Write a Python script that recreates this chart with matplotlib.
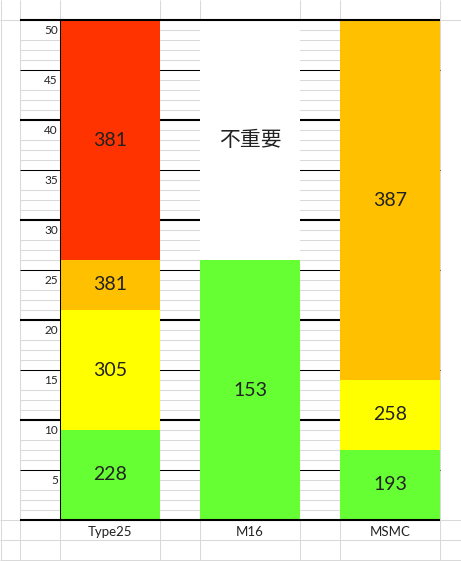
import matplotlib
matplotlib.use("Agg")
import matplotlib.pyplot as plt

plt.rcParams['font.family'] = ['Lato', 'Noto Sans CJK SC', 'DejaVu Sans']

# ---- data ----
categories = ["Type25", "M16", "MSMC"]
seg_type25 = [9, 12, 5, 24]
seg_m16 = [26, 24]
seg_msmc = [7, 7, 36]
labels_type25 = ["228", "305", "381", "381"]
labels_m16 = ["153", "不重要"]
labels_msmc = ["193", "258", "387"]
yticks = [5, 10, 15, 20, 25, 30, 35, 40, 45, 50]

colors_type25 = ["#66FF33", "#FFFF00", "#FFC000", "#FF3300"]
colors_m16 = ["#66FF33", "#FFFFFF"]
colors_msmc = ["#66FF33", "#FFFF00", "#FFC000"]

segments = [seg_type25, seg_m16, seg_msmc]
labels = [labels_type25, labels_m16, labels_msmc]
colors = [colors_type25, colors_m16, colors_msmc]

# ---- layout (pixel geometry of the sheet) ----
W, H = 461, 561
fig = plt.figure(figsize=(W / 100, H / 100), dpi=100)
ax = fig.add_axes([0, 0, 1, 1])
ax.set_axis_off()

def px(x):
    return (x - 110) / 140.0

ax.set_xlim(px(0), px(W))
ax.set_ylim(-4.1, 52)

grid_gray = "#d9d9d9"
lw1 = 0.75
lw2 = 1.5

# minor gray rows
skip = {v - 1 for v in yticks}
for v in range(1, 50):
    ax.hlines(v, px(60), px(440), color=grid_gray, lw=lw1, zorder=1)
    if v not in skip:
        ax.hlines(v, px(20), px(60), color=grid_gray, lw=lw1, zorder=1)

# header / footer rows
for v in [50, 0, -2, -4]:
    ax.hlines(v, px(0), px(W), color=grid_gray, lw=lw1, zorder=1)

# vertical gray column lines
for x in [0.5, 20, 440]:
    ax.vlines(px(x), -4.1, 52, color=grid_gray, lw=lw1, zorder=1)
for x in [60, 160, 200, 300, 340]:
    ax.vlines(px(x), 50, 52, color=grid_gray, lw=lw1, zorder=1)
    ax.vlines(px(x), -4.1, 0, color=grid_gray, lw=lw1, zorder=1)

# black lines under bars
for v in yticks[:-1]:
    w = lw2 if v % 10 == 0 else lw1
    ax.hlines(v, px(20), px(440), color="black", lw=w, zorder=1.5)

# bars
width = 100 / 140.0
for i, (segs, cols, labs) in enumerate(zip(segments, colors, labels)):
    bottom = 0
    for h, c, lab in zip(segs, cols, labs):
        ax.bar(i, h, bottom=bottom, width=width, color=c, linewidth=0, zorder=2)
        fs = 15 if not lab.isdigit() else 14
        ax.text(i, bottom + h / 2, lab, ha="center", va="center",
                fontsize=fs, color="#222222", zorder=4)
        bottom += h

# black axis lines above bars
ax.hlines(50, px(20), px(440), color="black", lw=lw2, zorder=3)
ax.hlines(0, px(20), px(440), color="black", lw=lw2, zorder=3)
ax.vlines(px(60), 0, 50, color="black", lw=lw1, zorder=3)

# tick labels
for v in yticks:
    ax.text(px(58), v - 1.1, str(v), ha="right", va="center",
            fontsize=8.5, color="#222222", zorder=4)

# category labels
for i, c in enumerate(categories):
    ax.text(i, -1.2, c, ha="center", va="center", fontsize=9.5,
            color="#222222", zorder=4)

fig.savefig("out.png", dpi=100, facecolor="white")
